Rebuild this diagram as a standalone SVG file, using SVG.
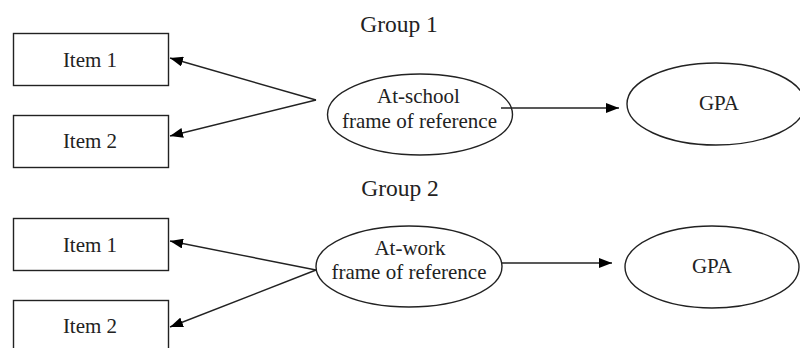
<svg xmlns="http://www.w3.org/2000/svg" width="800" height="348" viewBox="0 0 800 348">
<defs>
<marker id="arr" viewBox="0 0 13 10" refX="13" refY="5" markerWidth="13" markerHeight="10" markerUnits="userSpaceOnUse" orient="auto">
<path d="M0,0 L13,5 L0,10 z" fill="#000"/>
</marker>
<style>
text{font-family:"Liberation Serif","Times New Roman",serif;font-size:21px;fill:#222;text-anchor:middle}
.g{font-size:23.5px}
.box,.ell{fill:#fff;stroke:#222;stroke-width:1.4}
.c{stroke:#222;stroke-width:1.4;fill:none;marker-end:url(#arr)}
</style>
</defs>
<rect width="800" height="348" fill="#fff"/>
<text class="g" x="399" y="32">Group 1</text>
<text class="g" x="400" y="196">Group 2</text>
<g id="g1-item1"><rect class="box" x="13.5" y="33.5" width="155" height="52"/><text x="90" y="67">Item 1</text></g>
<g id="g1-item2"><rect class="box" x="13.5" y="115.5" width="155" height="52"/><text x="90" y="148">Item 2</text></g>
<g id="g1-school"><ellipse class="ell" cx="420" cy="114.5" rx="92.5" ry="40.5"/><text x="418.5" y="103">At-school</text><text x="419.5" y="128">frame of reference</text></g>
<g id="g1-gpa"><ellipse class="ell" cx="716" cy="104" rx="89" ry="41"/><text x="719" y="110">GPA</text></g>
<g id="g2-item1"><rect class="box" x="13.5" y="218.5" width="155" height="52"/><text x="90" y="252">Item 1</text></g>
<g id="g2-item2"><rect class="box" x="13.5" y="300.5" width="155" height="60"/><text x="90" y="333">Item 2</text></g>
<g id="g2-work"><ellipse class="ell" cx="409" cy="266.5" rx="93" ry="40.5"/><text x="410" y="255">At-work</text><text x="409" y="279">frame of reference</text></g>
<g id="g2-gpa"><ellipse class="ell" cx="712" cy="267" rx="87" ry="41"/><text x="712" y="273">GPA</text></g>
<g id="connectors">
<line class="c" x1="316" y1="100" x2="170" y2="58"/>
<line class="c" x1="316" y1="100" x2="170" y2="136"/>
<line class="c" x1="501" y1="108" x2="619" y2="108"/>
<line class="c" x1="316" y1="270" x2="170" y2="241"/>
<line class="c" x1="316" y1="270" x2="170" y2="327"/>
<line class="c" x1="502" y1="263" x2="612" y2="263"/>
</g>
</svg>
